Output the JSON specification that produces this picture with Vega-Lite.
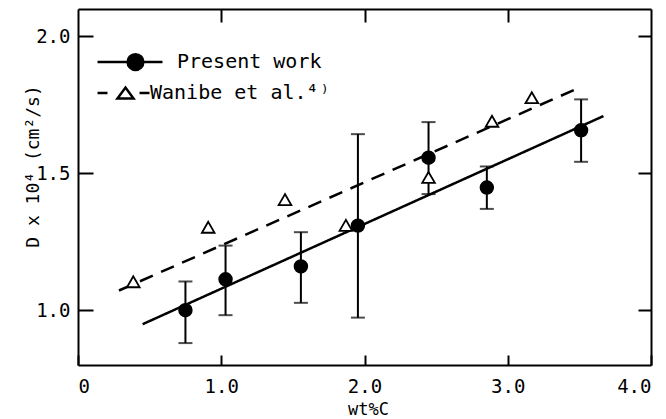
{
  "$schema": "https://vega.github.io/schema/vega-lite/v6.json",
  "width": 573,
  "height": 356,
  "autosize": {"type": "none"},
  "padding": {"left": 78, "top": 9, "right": 15, "bottom": 54},
  "background": "white",
  "config": {
    "view": {"stroke": null},
    "font": "DejaVu Sans Mono",
    "axis": {
      "labelFont": "DejaVu Sans Mono",
      "labelFontSize": 19,
      "labelColor": "black",
      "titleFont": "DejaVu Sans Mono",
      "titleFontSize": 18,
      "titleFontWeight": "normal",
      "titleColor": "black",
      "domainColor": "black",
      "domainWidth": 2,
      "tickColor": "black",
      "tickWidth": 2,
      "grid": false
    }
  },
  "datasets": {
    "fits": [
      {"series": "Present work", "x": 0.451, "y": 0.949},
      {"series": "Present work", "x": 3.668, "y": 1.709},
      {"series": "Wanibe et al.⁴⁾", "x": 0.286, "y": 1.072},
      {"series": "Wanibe et al.⁴⁾", "x": 3.496, "y": 1.812}
    ],
    "present": [
      {"x": 0.75, "y": 1.0, "lo": 0.88, "hi": 1.105},
      {"x": 1.03, "y": 1.113, "lo": 0.982, "hi": 1.236},
      {"x": 1.556, "y": 1.16, "lo": 1.027, "hi": 1.285},
      {"x": 1.954, "y": 1.309, "lo": 0.973, "hi": 1.643},
      {"x": 2.447, "y": 1.557, "lo": 1.424, "hi": 1.687},
      {"x": 2.854, "y": 1.448, "lo": 1.37, "hi": 1.525},
      {"x": 3.512, "y": 1.657, "lo": 1.542, "hi": 1.77}
    ],
    "points": [
      {"series": "Present work", "x": 0.75, "y": 1.0},
      {"series": "Present work", "x": 1.03, "y": 1.113},
      {"series": "Present work", "x": 1.556, "y": 1.16},
      {"series": "Present work", "x": 1.954, "y": 1.309},
      {"series": "Present work", "x": 2.447, "y": 1.557},
      {"series": "Present work", "x": 2.854, "y": 1.448},
      {"series": "Present work", "x": 3.512, "y": 1.657},
      {"series": "Wanibe et al.⁴⁾", "x": 0.386, "y": 1.104},
      {"series": "Wanibe et al.⁴⁾", "x": 0.909, "y": 1.303},
      {"series": "Wanibe et al.⁴⁾", "x": 1.445, "y": 1.404},
      {"series": "Wanibe et al.⁴⁾", "x": 1.87, "y": 1.31},
      {"series": "Wanibe et al.⁴⁾", "x": 2.447, "y": 1.485},
      {"series": "Wanibe et al.⁴⁾", "x": 2.89, "y": 1.69},
      {"series": "Wanibe et al.⁴⁾", "x": 3.168, "y": 1.776}
    ]
  },
  "resolve": {"axis": {"x": "independent", "y": "independent"}},
  "layer": [
    {
      "data": {"name": "fits"},
      "mark": {"type": "line", "strokeWidth": 2.5, "color": "black"},
      "encoding": {
        "x": {
          "field": "x", "type": "quantitative",
          "scale": {"domain": [0, 4], "nice": false, "zero": false},
          "axis": {
            "orient": "bottom",
            "values": [0, 1, 2, 3, 4],
            "labelExpr": "datum.value == 0 ? '0' : format(datum.value, '.1f')",
            "tickSize": -10,
            "labelPadding": 22,
            "title": "wt%C",
            "titleX": 290,
            "titleY": 53,
            "titleBaseline": "bottom",
            "titleFontSize": 17
          }
        },
        "y": {
          "field": "y", "type": "quantitative",
          "scale": {"domain": [0.8, 2.1], "nice": false, "zero": false},
          "axis": {
            "orient": "left",
            "values": [1, 1.5, 2],
            "format": ".1f",
            "tickSize": -15,
            "labelPadding": 23,
            "title": "D x 10⁴ (cm²/s)",
            "titleX": -40,
            "titleY": 157,
            "titleAngle": -90,
            "titleBaseline": "alphabetic"
          }
        },
        "detail": {"field": "series", "type": "nominal"},
        "strokeDash": {
          "condition": {"test": "datum.series === 'Present work'", "value": [1, 0]},
          "value": [14, 9]
        }
      }
    },
    {
      "data": {"name": "fits"},
      "mark": {"type": "point", "opacity": 0},
      "encoding": {
        "x": {"field": "x", "type": "quantitative", "scale": {"domain": [0, 4], "nice": false, "zero": false}, "axis": null},
        "y": {"field": "y", "type": "quantitative", "scale": {"domain": [0.8, 2.1], "nice": false, "zero": false}, "axis": null},
        "shape": {
          "field": "series", "type": "nominal",
          "scale": {
            "domain": ["Present work", "Wanibe et al.⁴⁾"],
            "range": [
              "M-4.33,0H4.33M-0.32,0A1.05,1.05,0,1,0,1.78,0A1.05,1.05,0,1,0,-0.32,0Z",
              "M-4.33,0H-3M1.27,0H2.6M-1.67,0.73L-0.6,-0.73L0.47,0.73Z"
            ]
          },
          "legend": {
            "title": null,
            "orient": "none",
            "legendX": 42,
            "legendY": 43,
            "padding": 0,
            "labelFont": "DejaVu Sans Mono",
            "labelFontSize": 20,
            "labelColor": "black",
            "labelLimit": 400,
            "labelOffset": 37,
            "rowPadding": 7,
            "symbolSize": 225,
            "symbolStrokeWidth": 2.5,
            "encoding": {
              "symbols": {
                "fill": {
                  "condition": {"test": "datum.value === 'Present work'", "value": "black"},
                  "value": "white"
                },
                "stroke": {"value": "black"},
                "strokeWidth": {"value": 2.5},
                "opacity": {"value": 1}
              },
              "labels": {
                "dx": {
                  "condition": {"test": "datum.value === 'Present work'", "value": 0},
                  "value": -27
                }
              }
            }
          }
        }
      }
    },
    {
      "data": {"name": "present"},
      "mark": {"type": "errorbar", "color": "black", "thickness": 2, "size": 14, "ticks": {"size": 14, "thickness": 2}},
      "encoding": {
        "x": {"field": "x", "type": "quantitative", "scale": {"domain": [0, 4], "nice": false, "zero": false}, "axis": null},
        "y": {"field": "lo", "type": "quantitative", "scale": {"domain": [0.8, 2.1], "nice": false, "zero": false}, "axis": null},
        "y2": {"field": "hi"}
      }
    },
    {
      "data": {"name": "points"},
      "mark": {"type": "point", "opacity": 1, "stroke": "black", "strokeWidth": 1.8, "size": 160},
      "encoding": {
        "x": {
          "field": "x", "type": "quantitative",
          "scale": {"domain": [0, 4], "nice": false, "zero": false},
          "axis": {"orient": "top", "values": [1, 2, 3], "labels": false, "tickSize": -13, "title": null}
        },
        "y": {
          "field": "y", "type": "quantitative",
          "scale": {"domain": [0.8, 2.1], "nice": false, "zero": false},
          "axis": {"orient": "right", "values": [1, 1.5, 2], "labels": false, "tickSize": -13, "title": null}
        },
        "fill": {
          "condition": {"test": "datum.series === 'Present work'", "value": "black"},
          "value": "white"
        },
        "shape": {
          "condition": {"test": "datum.series === 'Present work'", "value": "circle"},
          "value": "triangle-up"
        }
      }
    }
  ]
}
